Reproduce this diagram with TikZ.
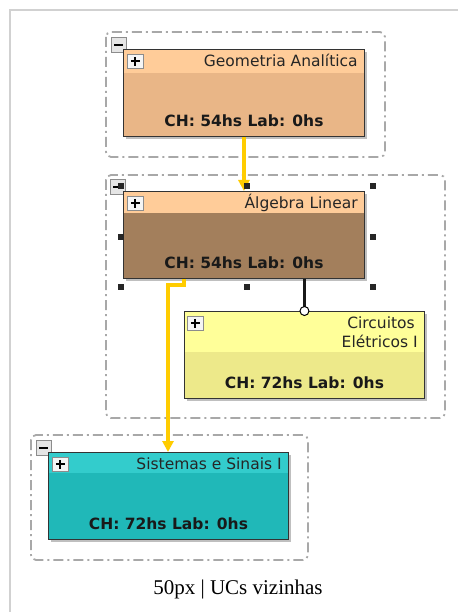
\documentclass[tikz,border=0pt]{standalone}
\usepackage{fontspec}
\setmainfont{DejaVu Sans}
\newfontfamily\capfont{Liberation Serif}
\usetikzlibrary{shadows,arrows.meta,calc}
\definecolor{headGA}{HTML}{FFCC99}
\definecolor{bodyGA}{HTML}{E9B687}
\definecolor{bodyAL}{HTML}{A37F5C}
\definecolor{headCE}{HTML}{FFFF99}
\definecolor{bodyCE}{HTML}{EDE98A}
\definecolor{headSS}{HTML}{33CCCC}
\definecolor{bodySS}{HTML}{20B8B8}
\definecolor{connC}{HTML}{FFCC00}
\definecolor{grpC}{HTML}{A8A8A8}
\tikzset{
  ucbox/.style={draw=black!80, line width=0.9pt, anchor=north west, minimum width=241pt, minimum height=87pt, inner sep=0pt,
    drop shadow={shadow xshift=3pt, shadow yshift=-3pt, fill=black!50, opacity=.5}},
  ucborder/.style={draw=black!80, line width=0.9pt},
  grp/.style={draw=grpC, line width=1.8pt, dash pattern=on 10pt off 4pt on 2pt off 4pt, rounded corners=5pt},
  minusbtn/.style={draw=black!45, fill=black!10, line width=0.8pt, anchor=north west, minimum width=15pt, minimum height=15pt, inner sep=0pt},
  plusbtn/.style={draw=black!45, fill=black!4, line width=0.8pt, anchor=north west, minimum width=16pt, minimum height=14pt, inner sep=0pt},
  ttl/.style={anchor=base east, inner sep=0pt, text=black!85, font=\fontsize{15.5}{19}\selectfont},
  bdy/.style={anchor=base, inner sep=0pt, text=black!90, font=\bfseries\fontsize{15.5}{19}\selectfont},
  conn/.style={draw=connC, line width=3.2pt, -{Triangle[length=11pt,width=11pt]}},
  handle/.style={fill=black!85, minimum size=5.5pt, inner sep=0pt}
}
\newcommand{\plusmark}[1]{\draw[line width=2pt] ($(#1.center)+(-4.5,0)$) -- ($(#1.center)+(4.5,0)$) ($(#1.center)+(0,-4.5)$) -- ($(#1.center)+(0,4.5)$);}
\newcommand{\minusmark}[1]{\draw[line width=2pt] ($(#1.center)+(-4.5,0)$) -- ($(#1.center)+(4.5,0)$);}
\begin{document}
\begin{tikzpicture}[x=1pt,y=-1pt]
\useasboundingbox (0,0) rectangle (458,612);
\fill[white] (0,0) rectangle (458,612);
% frame
\draw[black!18, line width=1.5pt] (10,612) -- (10,10) -- (458,10);

% groups
\draw[grp] (106,32) rectangle (385,157);
\draw[grp] (106,175) rectangle (445,418);
\draw[grp] (31,435) rectangle (308,560);

\node[minusbtn] (m1) at (111,37) {}; \minusmark{m1}
\node[minusbtn] (m2) at (110,179) {}; \minusmark{m2}
\node[minusbtn] (m3) at (36,440) {}; \minusmark{m3}

% Geometria Analitica
\node[ucbox, fill=bodyGA] (ga) at (123,49) {};
\fill[headGA] (ga.north west) rectangle ($(ga.north east)+(0,24)$);
\draw[ucborder] (ga.north west) rectangle (ga.south east);
\node[plusbtn] (pga) at ($(ga.north west)+(4,5)$) {}; \plusmark{pga}
\node[ttl] at ($(ga.north east)+(-7,18)$) {Geometria Analítica};
\node[bdy] at ($(ga.south)+(0,-10)$) {CH: 54hs Lab: 0hs};

% Algebra Linear
\node[ucbox, fill=bodyAL] (al) at (123,191) {};
\fill[headGA] (al.north west) rectangle ($(al.north east)+(0,22)$);
\draw[ucborder] (al.north west) rectangle (al.south east);
\node[plusbtn] (pal) at ($(al.north west)+(4,5)$) {}; \plusmark{pal}
\node[ttl] at ($(al.north east)+(-7,17)$) {Álgebra Linear};
\node[bdy] at ($(al.south)+(0,-10)$) {CH: 54hs Lab: 0hs};

% Circuitos Eletricos I
\node[ucbox, fill=bodyCE, minimum width=240pt] (ce) at (184,311) {};
\fill[headCE] (ce.north west) rectangle ($(ce.north east)+(0,41)$);
\draw[ucborder] (ce.north west) rectangle (ce.south east);
\node[plusbtn] (pce) at ($(ce.north west)+(3,5)$) {}; \plusmark{pce}
\node[ttl] at ($(ce.north east)+(-10,17)$) {Circuitos};
\node[ttl] at ($(ce.north east)+(-7,36)$) {Elétricos I};
\node[bdy] at ($(ce.south)+(0,-10)$) {CH: 72hs Lab: 0hs};

% Sistemas e Sinais I
\node[ucbox, fill=bodySS, minimum width=240pt] (ss) at (48,452) {};
\fill[headSS] (ss.north west) rectangle ($(ss.north east)+(0,21)$);
\draw[ucborder] (ss.north west) rectangle (ss.south east);
\node[plusbtn] (pss) at ($(ss.north west)+(4,5)$) {}; \plusmark{pss}
\node[ttl] at ($(ss.north east)+(-7,17)$) {Sistemas e Sinais I};
\node[bdy] at ($(ss.south)+(0,-10)$) {CH: 72hs Lab: 0hs};

% connectors
\draw[conn] (ga.south) -- (al.north);
\draw[conn] ([xshift=61pt]al.south west) -- ++(0,6) -| ([xshift=120pt]ss.north west);
\draw[line width=2.5pt, black!90] (al.south -| ce.north) -- ([yshift=4.5pt]ce.north);
\draw[line width=1pt, fill=white] (ce.north) circle (4.5);

% selection handles
\foreach \hx in {121,247,373} {
  \node[handle] at (\hx,186) {};
  \node[handle] at (\hx,287) {};
}
\node[handle] at (121,237) {};
\node[handle] at (373,237) {};

% caption
\node[anchor=base, inner sep=0pt, font=\capfont\fontsize{21}{25}\selectfont] (cap) at (238,594) {50px | UCs vizinhas};
\end{tikzpicture}
\end{document}
